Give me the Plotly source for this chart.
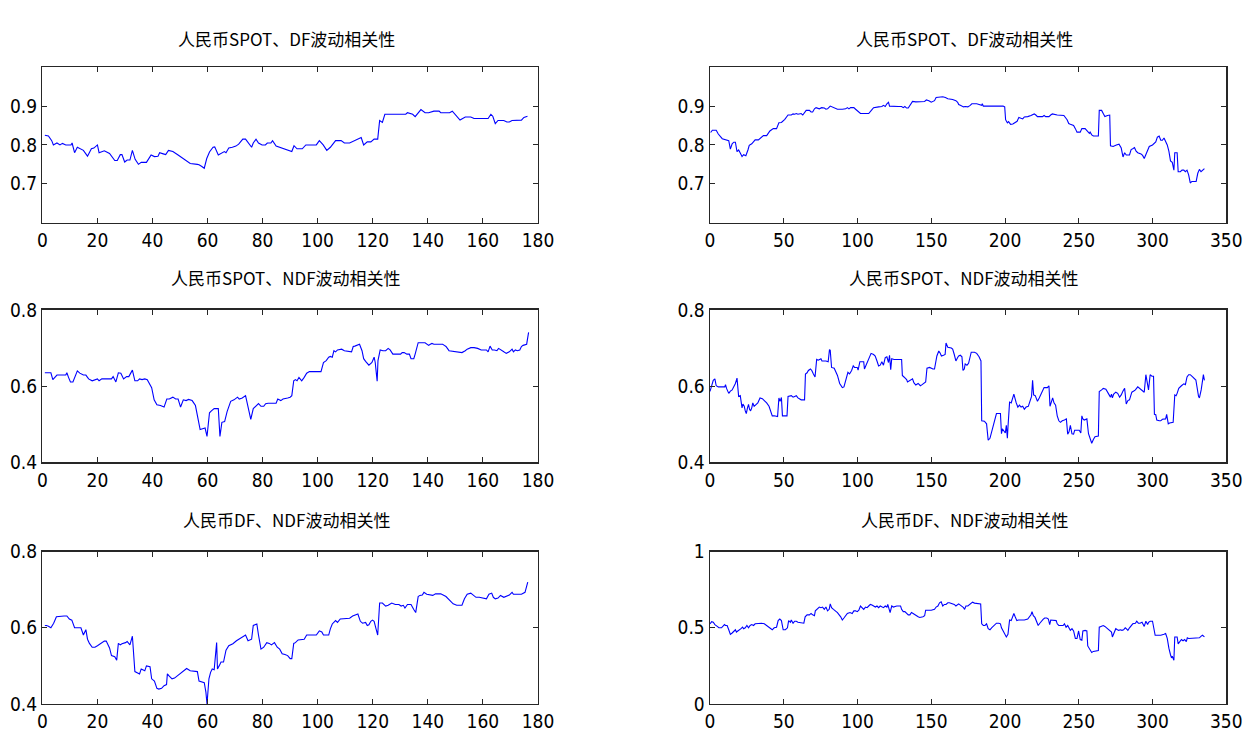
import plotly.graph_objects as go

# ---------------- data ----------------
titles = ["人民币SPOT、DF波动相关性", "人民币SPOT、NDF波动相关性", "人民币DF、NDF波动相关性"]

# left column: sample A (0-180)
spot_df_a_x = [0.9, 2.2, 3.4, 4.0, 5.3, 6.4, 7.3, 8.5, 10.4, 10.8, 11.7, 12.7, 14.9, 16.4, 17.8, 18.7, 20.0, 20.6, 22.5, 24.4, 26.3, 27.2, 28.3, 28.9, 29.9, 30.8, 31.8, 32.7, 33.7, 34.9, 35.9, 37.8, 39.5, 40.7, 42.0, 42.6, 43.9, 44.8, 45.8, 47.4, 49.3, 50.5, 52.4, 53.7, 56.3, 56.9, 57.8, 58.8, 59.7, 60.7, 62.0, 62.6, 63.9, 65.2, 66.1, 66.7, 67.7, 69.0, 70.3, 71.3, 72.8, 73.8, 75.1, 76.0, 76.6, 77.6, 78.5, 79.8, 81.0, 81.7, 83.0, 83.6, 84.9, 86.2, 88.1, 90.0, 90.6, 91.4, 92.5, 94.4, 95.7, 99.5, 100.6, 102.0, 103.3, 104.6, 106.5, 108.5, 109.7, 111.6, 113.5, 114.8, 115.8, 116.7, 118.0, 119.3, 120.5, 121.8, 122.5, 123.5, 124.4, 125.6, 132.0, 132.6, 133.9, 134.5, 135.4, 136.5, 137.5, 139.0, 140.3, 142.2, 144.1, 144.7, 147.9, 148.9, 150.5, 151.7, 153.6, 155.6, 156.8, 161.9, 162.9, 163.6, 164.5, 165.5, 167.6, 168.7, 169.6, 170.6, 174.0, 174.9, 176.2]
spot_df_a_y = [0.825, 0.823, 0.811, 0.800, 0.805, 0.800, 0.804, 0.800, 0.800, 0.805, 0.780, 0.794, 0.786, 0.771, 0.790, 0.792, 0.800, 0.780, 0.785, 0.778, 0.760, 0.760, 0.775, 0.775, 0.756, 0.761, 0.761, 0.786, 0.763, 0.750, 0.755, 0.755, 0.774, 0.770, 0.771, 0.780, 0.777, 0.775, 0.786, 0.783, 0.774, 0.768, 0.760, 0.752, 0.750, 0.749, 0.745, 0.740, 0.765, 0.782, 0.794, 0.795, 0.774, 0.780, 0.783, 0.780, 0.792, 0.794, 0.797, 0.802, 0.815, 0.815, 0.802, 0.794, 0.805, 0.815, 0.805, 0.800, 0.800, 0.805, 0.805, 0.811, 0.797, 0.794, 0.790, 0.786, 0.783, 0.798, 0.790, 0.790, 0.800, 0.800, 0.811, 0.800, 0.786, 0.794, 0.811, 0.811, 0.805, 0.805, 0.811, 0.815, 0.819, 0.800, 0.808, 0.808, 0.815, 0.815, 0.863, 0.858, 0.879, 0.879, 0.879, 0.883, 0.879, 0.879, 0.873, 0.882, 0.891, 0.883, 0.883, 0.887, 0.887, 0.883, 0.883, 0.887, 0.874, 0.864, 0.872, 0.872, 0.868, 0.868, 0.879, 0.874, 0.855, 0.863, 0.863, 0.859, 0.859, 0.863, 0.864, 0.871, 0.874]

spot_ndf_a_x = [0.9, 2.2, 3.1, 3.8, 4.7, 5.3, 8.5, 8.9, 9.5, 10.2, 11.1, 11.7, 12.7, 13.6, 14.9, 15.8, 16.8, 18.1, 19.1, 20.0, 20.6, 21.6, 25.1, 25.7, 26.7, 27.6, 28.5, 29.5, 30.6, 31.4, 32.7, 33.6, 34.6, 35.3, 36.2, 37.2, 38.1, 38.7, 39.7, 40.6, 41.6, 42.9, 44.2, 45.2, 46.1, 47.4, 48.4, 49.3, 50.2, 51.2, 52.2, 53.1, 54.4, 55.6, 56.3, 57.3, 58.2, 59.1, 59.8, 60.7, 61.4, 62.4, 63.9, 64.5, 65.2, 66.2, 67.1, 68.4, 69.6, 70.9, 71.5, 72.6, 73.8, 74.7, 75.7, 76.6, 77.6, 78.5, 79.4, 80.4, 81.1, 82.0, 84.9, 85.5, 86.6, 87.4, 89.1, 90.0, 90.6, 91.3, 91.9, 92.5, 93.2, 94.2, 95.1, 96.0, 97.0, 101.2, 102.1, 103.1, 104.0, 104.6, 105.3, 105.9, 106.5, 107.2, 108.7, 109.7, 112.3, 112.9, 113.5, 114.6, 115.2, 116.1, 116.7, 117.4, 118.6, 119.7, 120.5, 120.9, 121.6, 121.9, 122.7, 123.7, 124.7, 125.6, 126.3, 127.3, 130.1, 130.7, 131.4, 132.4, 133.3, 133.9, 134.9, 135.4, 136.5, 139.0, 139.6, 140.3, 140.9, 141.5, 142.2, 145.4, 146.0, 146.6, 147.7, 151.1, 152.4, 153.6, 154.3, 155.6, 156.8, 158.1, 159.4, 161.3, 161.9, 162.6, 163.4, 164.2, 165.1, 165.7, 166.8, 167.6, 168.5, 169.6, 170.6, 171.1, 171.8, 172.5, 173.4, 174.0, 174.6, 175.9, 176.6]
spot_ndf_a_y = [0.635, 0.635, 0.635, 0.617, 0.625, 0.629, 0.629, 0.635, 0.623, 0.611, 0.611, 0.623, 0.640, 0.634, 0.629, 0.629, 0.619, 0.614, 0.617, 0.619, 0.614, 0.619, 0.619, 0.625, 0.611, 0.635, 0.634, 0.619, 0.625, 0.625, 0.642, 0.614, 0.614, 0.619, 0.617, 0.619, 0.617, 0.608, 0.596, 0.564, 0.551, 0.549, 0.545, 0.566, 0.566, 0.571, 0.566, 0.566, 0.545, 0.564, 0.562, 0.565, 0.562, 0.549, 0.524, 0.486, 0.488, 0.490, 0.468, 0.530, 0.535, 0.541, 0.541, 0.468, 0.505, 0.507, 0.533, 0.560, 0.564, 0.571, 0.566, 0.569, 0.575, 0.541, 0.513, 0.541, 0.547, 0.554, 0.547, 0.547, 0.554, 0.555, 0.555, 0.566, 0.562, 0.566, 0.569, 0.571, 0.575, 0.614, 0.617, 0.614, 0.623, 0.614, 0.623, 0.634, 0.638, 0.638, 0.662, 0.667, 0.676, 0.678, 0.676, 0.693, 0.690, 0.695, 0.697, 0.693, 0.690, 0.704, 0.705, 0.707, 0.710, 0.693, 0.672, 0.665, 0.655, 0.662, 0.676, 0.662, 0.613, 0.667, 0.695, 0.693, 0.693, 0.699, 0.695, 0.684, 0.684, 0.688, 0.688, 0.684, 0.684, 0.672, 0.672, 0.684, 0.714, 0.714, 0.710, 0.707, 0.710, 0.712, 0.710, 0.710, 0.707, 0.704, 0.693, 0.690, 0.688, 0.693, 0.697, 0.701, 0.701, 0.699, 0.695, 0.695, 0.690, 0.705, 0.695, 0.695, 0.693, 0.699, 0.695, 0.690, 0.686, 0.690, 0.697, 0.690, 0.695, 0.693, 0.695, 0.704, 0.707, 0.710, 0.741]

df_ndf_a_x = [0.9, 1.5, 2.2, 3.1, 4.1, 5.1, 7.9, 8.9, 9.8, 10.7, 11.7, 14.0, 14.9, 15.8, 16.4, 17.1, 18.1, 19.1, 20.0, 21.3, 22.5, 23.2, 24.4, 25.1, 25.7, 26.3, 27.0, 27.6, 28.3, 28.9, 30.2, 30.8, 31.8, 32.7, 33.6, 34.6, 35.3, 35.9, 36.5, 37.2, 37.8, 39.1, 39.7, 40.7, 41.6, 42.3, 43.3, 44.2, 45.1, 45.4, 46.1, 47.1, 48.0, 49.3, 51.2, 52.4, 53.7, 56.3, 56.9, 58.2, 58.8, 59.4, 59.8, 60.5, 61.1, 61.7, 62.4, 63.3, 63.6, 64.2, 64.9, 65.8, 66.7, 67.7, 69.2, 70.5, 71.8, 72.8, 73.8, 74.7, 76.0, 76.6, 77.9, 78.5, 79.4, 80.4, 81.5, 82.4, 83.2, 84.3, 85.3, 86.2, 87.1, 88.1, 89.1, 90.0, 90.6, 91.3, 91.9, 92.9, 94.2, 95.1, 96.0, 99.5, 100.6, 101.5, 102.1, 104.0, 104.6, 105.3, 106.5, 107.2, 108.2, 110.4, 111.6, 112.7, 114.6, 115.5, 116.3, 117.4, 118.0, 118.6, 119.3, 119.9, 120.5, 121.2, 121.8, 122.5, 123.5, 124.7, 125.6, 126.9, 128.2, 129.5, 130.3, 131.1, 131.7, 132.6, 133.9, 134.9, 135.6, 136.5, 137.1, 138.0, 138.6, 139.6, 140.9, 141.8, 142.8, 144.7, 146.6, 147.9, 149.2, 150.5, 152.4, 153.3, 154.3, 155.6, 156.6, 157.5, 158.7, 160.0, 161.3, 162.2, 163.2, 163.8, 164.5, 165.5, 166.4, 167.6, 168.5, 169.6, 170.6, 171.1, 174.0, 175.3, 176.3]
df_ndf_a_y = [0.606, 0.606, 0.604, 0.600, 0.612, 0.629, 0.631, 0.631, 0.623, 0.620, 0.600, 0.600, 0.581, 0.595, 0.570, 0.559, 0.549, 0.549, 0.553, 0.559, 0.565, 0.565, 0.547, 0.527, 0.526, 0.524, 0.515, 0.559, 0.555, 0.558, 0.561, 0.564, 0.555, 0.578, 0.485, 0.482, 0.479, 0.492, 0.490, 0.487, 0.500, 0.498, 0.466, 0.460, 0.441, 0.439, 0.441, 0.448, 0.451, 0.479, 0.473, 0.466, 0.468, 0.475, 0.485, 0.493, 0.487, 0.485, 0.460, 0.458, 0.456, 0.431, 0.400, 0.466, 0.483, 0.492, 0.490, 0.561, 0.492, 0.500, 0.510, 0.510, 0.541, 0.553, 0.558, 0.566, 0.572, 0.578, 0.581, 0.566, 0.570, 0.606, 0.610, 0.581, 0.544, 0.549, 0.561, 0.559, 0.555, 0.561, 0.549, 0.544, 0.532, 0.530, 0.527, 0.519, 0.519, 0.559, 0.561, 0.568, 0.570, 0.570, 0.581, 0.581, 0.592, 0.589, 0.581, 0.581, 0.597, 0.610, 0.619, 0.614, 0.623, 0.625, 0.625, 0.631, 0.636, 0.617, 0.612, 0.614, 0.606, 0.608, 0.617, 0.620, 0.617, 0.597, 0.581, 0.665, 0.665, 0.657, 0.659, 0.665, 0.661, 0.661, 0.657, 0.659, 0.652, 0.661, 0.661, 0.648, 0.640, 0.682, 0.685, 0.686, 0.693, 0.688, 0.686, 0.685, 0.689, 0.689, 0.682, 0.671, 0.663, 0.659, 0.659, 0.676, 0.688, 0.691, 0.685, 0.680, 0.680, 0.678, 0.676, 0.688, 0.691, 0.680, 0.676, 0.678, 0.685, 0.680, 0.683, 0.686, 0.693, 0.688, 0.688, 0.693, 0.720]

# right column: sample B (0-350)
spot_df_b_x = [0.4, 1.6, 4.2, 5.6, 8.3, 11.6, 12.7, 13.8, 15.0, 16.1, 17.2, 18.3, 19.4, 20.5, 21.7, 22.8, 24.3, 25.7, 26.6, 28.3, 30.6, 32.8, 35.0, 36.2, 38.4, 40.6, 42.9, 45.1, 46.7, 48.4, 50.7, 52.9, 55.1, 56.3, 57.4, 58.5, 59.6, 61.8, 62.9, 64.1, 65.2, 67.4, 68.5, 69.6, 70.8, 71.9, 74.1, 75.7, 77.5, 78.6, 79.7, 81.5, 83.0, 84.2, 86.4, 89.7, 92.0, 93.1, 94.2, 95.3, 97.5, 98.7, 100.9, 102.0, 104.2, 107.6, 109.8, 110.9, 114.3, 116.5, 117.6, 118.8, 119.9, 121.0, 121.7, 124.3, 127.7, 129.9, 131.0, 132.1, 133.3, 134.4, 135.5, 137.3, 139.5, 142.2, 144.4, 145.5, 146.7, 148.4, 150.0, 152.2, 153.3, 155.6, 157.8, 159.6, 161.2, 164.5, 166.7, 167.9, 168.6, 169.7, 171.9, 173.0, 174.8, 176.4, 177.5, 180.8, 182.4, 184.2, 184.6, 185.3, 198.7, 199.8, 200.4, 201.6, 202.4, 203.8, 205.3, 206.9, 208.2, 209.4, 210.9, 212.0, 213.1, 215.4, 217.6, 219.8, 220.9, 222.0, 225.4, 226.5, 227.6, 229.8, 231.0, 232.1, 235.4, 239.9, 242.1, 243.2, 244.3, 246.5, 247.7, 248.8, 251.0, 252.1, 254.3, 255.5, 257.2, 257.7, 258.8, 259.9, 263.3, 263.9, 265.5, 266.6, 267.7, 269.5, 271.0, 271.5, 273.3, 275.5, 277.3, 278.8, 280.0, 281.1, 282.2, 284.4, 285.5, 286.6, 287.8, 288.9, 290.0, 292.2, 293.3, 294.4, 295.5, 297.8, 300.0, 302.2, 303.3, 304.5, 305.6, 306.7, 307.8, 308.9, 310.0, 311.1, 312.2, 313.4, 314.5, 315.1, 316.7, 317.4, 318.9, 320.0, 321.2, 322.3, 323.4, 324.5, 325.6, 326.7, 329.6, 330.7, 331.8, 332.9, 334.5, 335.2]
spot_df_b_y = [0.832, 0.838, 0.838, 0.828, 0.816, 0.813, 0.811, 0.789, 0.803, 0.807, 0.807, 0.783, 0.787, 0.779, 0.770, 0.775, 0.772, 0.787, 0.799, 0.803, 0.813, 0.813, 0.819, 0.824, 0.824, 0.836, 0.842, 0.842, 0.857, 0.858, 0.866, 0.877, 0.877, 0.880, 0.879, 0.881, 0.879, 0.881, 0.877, 0.885, 0.889, 0.889, 0.885, 0.885, 0.893, 0.896, 0.893, 0.896, 0.895, 0.892, 0.893, 0.900, 0.898, 0.895, 0.892, 0.892, 0.893, 0.896, 0.893, 0.896, 0.896, 0.892, 0.885, 0.881, 0.881, 0.881, 0.891, 0.896, 0.898, 0.899, 0.902, 0.899, 0.906, 0.910, 0.900, 0.899, 0.899, 0.899, 0.896, 0.899, 0.895, 0.895, 0.901, 0.912, 0.911, 0.911, 0.911, 0.912, 0.916, 0.914, 0.910, 0.914, 0.922, 0.924, 0.924, 0.922, 0.919, 0.917, 0.914, 0.910, 0.904, 0.902, 0.898, 0.899, 0.898, 0.902, 0.906, 0.906, 0.904, 0.902, 0.906, 0.900, 0.900, 0.898, 0.865, 0.857, 0.860, 0.853, 0.854, 0.857, 0.861, 0.871, 0.869, 0.867, 0.872, 0.873, 0.876, 0.880, 0.877, 0.873, 0.873, 0.876, 0.873, 0.873, 0.877, 0.880, 0.877, 0.876, 0.865, 0.855, 0.853, 0.850, 0.842, 0.833, 0.833, 0.842, 0.842, 0.837, 0.830, 0.833, 0.826, 0.823, 0.823, 0.889, 0.889, 0.881, 0.873, 0.876, 0.877, 0.798, 0.796, 0.800, 0.802, 0.792, 0.769, 0.780, 0.774, 0.774, 0.788, 0.790, 0.793, 0.784, 0.780, 0.777, 0.773, 0.765, 0.776, 0.796, 0.800, 0.808, 0.820, 0.823, 0.812, 0.812, 0.818, 0.808, 0.800, 0.784, 0.759, 0.755, 0.735, 0.780, 0.780, 0.731, 0.731, 0.735, 0.735, 0.731, 0.735, 0.723, 0.702, 0.706, 0.706, 0.727, 0.737, 0.731, 0.735, 0.739]

spot_ndf_b_x = [0.0, 1.1, 2.2, 3.3, 4.2, 5.6, 10.0, 10.5, 11.2, 12.7, 13.8, 15.0, 16.1, 17.2, 18.3, 18.8, 19.4, 20.5, 21.2, 21.7, 22.3, 23.2, 23.9, 24.6, 25.4, 26.1, 26.8, 27.5, 28.3, 29.0, 29.9, 31.0, 32.4, 33.9, 35.5, 36.8, 38.4, 40.0, 41.3, 42.2, 43.5, 45.1, 45.8, 46.7, 47.5, 48.4, 49.1, 52.2, 52.9, 55.1, 56.3, 57.4, 58.5, 59.6, 61.8, 64.1, 64.7, 65.8, 66.7, 68.1, 69.0, 70.1, 71.2, 72.3, 73.4, 74.3, 75.2, 75.9, 78.6, 80.1, 81.0, 81.5, 82.4, 84.2, 86.4, 87.9, 89.7, 90.8, 92.2, 93.5, 94.6, 96.0, 97.1, 98.0, 99.8, 100.4, 101.6, 104.2, 104.7, 106.0, 107.6, 109.2, 110.9, 112.0, 113.2, 114.3, 115.4, 116.5, 117.6, 118.8, 119.9, 121.0, 121.7, 122.5, 123.2, 124.8, 129.9, 130.4, 131.5, 133.3, 133.9, 135.5, 137.3, 138.2, 139.5, 141.1, 142.6, 143.8, 145.1, 146.2, 147.1, 148.9, 151.1, 152.2, 153.8, 155.1, 156.0, 156.9, 158.3, 159.4, 160.0, 161.2, 163.6, 164.5, 165.6, 166.7, 167.9, 168.6, 169.7, 170.8, 171.5, 172.4, 173.0, 174.2, 175.3, 177.1, 179.3, 180.8, 182.4, 183.7, 184.2, 186.0, 187.5, 188.6, 189.8, 190.9, 193.1, 194.2, 196.9, 197.6, 198.2, 199.3, 200.2, 200.9, 201.6, 202.0, 203.1, 204.2, 205.3, 206.0, 207.6, 208.7, 209.8, 210.9, 212.0, 213.1, 214.3, 215.8, 216.9, 218.0, 218.7, 219.4, 220.5, 222.0, 223.2, 224.3, 225.4, 226.5, 228.7, 229.8, 230.5, 231.6, 232.3, 233.2, 234.3, 235.4, 236.5, 237.6, 238.8, 240.3, 241.6, 242.5, 243.4, 244.3, 245.4, 246.5, 247.2, 250.3, 251.4, 252.1, 252.8, 253.7, 255.5, 256.6, 257.7, 258.8, 259.9, 261.0, 263.3, 263.9, 265.5, 266.6, 268.4, 269.3, 270.6, 271.5, 272.2, 272.8, 273.7, 275.1, 276.4, 277.7, 278.8, 280.0, 281.1, 282.2, 283.3, 284.4, 284.9, 286.0, 287.3, 288.4, 290.0, 292.2, 293.3, 294.4, 295.5, 296.0, 296.7, 297.3, 298.4, 299.6, 300.7, 301.3, 302.2, 302.9, 304.5, 305.6, 306.7, 307.8, 308.9, 309.6, 310.7, 311.6, 314.0, 315.1, 316.0, 316.7, 317.8, 319.6, 321.2, 322.3, 323.4, 324.5, 325.6, 327.2, 328.5, 329.4, 331.2, 331.8, 333.0, 333.9, 334.5, 335.2]
spot_ndf_b_y = [0.586, 0.601, 0.615, 0.619, 0.601, 0.598, 0.598, 0.604, 0.594, 0.581, 0.587, 0.590, 0.598, 0.607, 0.621, 0.603, 0.573, 0.575, 0.560, 0.543, 0.553, 0.547, 0.535, 0.528, 0.543, 0.552, 0.539, 0.535, 0.543, 0.556, 0.547, 0.552, 0.556, 0.569, 0.567, 0.562, 0.556, 0.547, 0.535, 0.522, 0.522, 0.521, 0.520, 0.569, 0.560, 0.570, 0.522, 0.522, 0.573, 0.575, 0.571, 0.573, 0.575, 0.569, 0.564, 0.564, 0.632, 0.635, 0.641, 0.645, 0.641, 0.632, 0.624, 0.670, 0.668, 0.670, 0.672, 0.666, 0.666, 0.664, 0.696, 0.694, 0.649, 0.647, 0.628, 0.607, 0.596, 0.598, 0.619, 0.636, 0.632, 0.641, 0.653, 0.649, 0.649, 0.642, 0.664, 0.664, 0.645, 0.658, 0.670, 0.686, 0.683, 0.679, 0.666, 0.653, 0.655, 0.664, 0.655, 0.675, 0.677, 0.662, 0.681, 0.643, 0.672, 0.670, 0.670, 0.628, 0.624, 0.617, 0.611, 0.615, 0.619, 0.609, 0.603, 0.607, 0.601, 0.604, 0.607, 0.611, 0.647, 0.649, 0.645, 0.645, 0.679, 0.692, 0.687, 0.679, 0.681, 0.683, 0.713, 0.702, 0.700, 0.697, 0.683, 0.666, 0.675, 0.679, 0.681, 0.677, 0.641, 0.645, 0.658, 0.655, 0.660, 0.689, 0.689, 0.686, 0.677, 0.666, 0.509, 0.508, 0.501, 0.458, 0.463, 0.480, 0.508, 0.528, 0.528, 0.475, 0.488, 0.482, 0.477, 0.497, 0.463, 0.492, 0.558, 0.556, 0.567, 0.579, 0.556, 0.545, 0.550, 0.545, 0.547, 0.539, 0.545, 0.547, 0.560, 0.573, 0.615, 0.577, 0.575, 0.560, 0.569, 0.579, 0.590, 0.596, 0.596, 0.601, 0.547, 0.564, 0.569, 0.556, 0.550, 0.522, 0.509, 0.505, 0.509, 0.511, 0.514, 0.474, 0.480, 0.497, 0.475, 0.474, 0.484, 0.484, 0.477, 0.522, 0.514, 0.511, 0.514, 0.475, 0.463, 0.450, 0.460, 0.467, 0.469, 0.586, 0.590, 0.594, 0.592, 0.587, 0.577, 0.571, 0.579, 0.569, 0.579, 0.584, 0.581, 0.571, 0.577, 0.587, 0.594, 0.553, 0.562, 0.564, 0.573, 0.584, 0.587, 0.590, 0.598, 0.592, 0.587, 0.584, 0.630, 0.615, 0.598, 0.590, 0.630, 0.626, 0.626, 0.526, 0.525, 0.511, 0.509, 0.509, 0.513, 0.514, 0.514, 0.526, 0.501, 0.503, 0.505, 0.577, 0.575, 0.581, 0.594, 0.601, 0.606, 0.604, 0.624, 0.630, 0.630, 0.624, 0.619, 0.616, 0.573, 0.569, 0.590, 0.624, 0.630, 0.615]

df_ndf_b_x = [0.0, 1.1, 2.2, 3.3, 4.9, 6.0, 7.8, 8.9, 9.8, 10.5, 11.6, 12.7, 13.8, 15.0, 16.1, 17.2, 17.9, 19.0, 19.9, 21.0, 22.1, 22.8, 23.9, 25.0, 26.1, 27.2, 28.3, 29.5, 30.6, 32.8, 35.0, 36.8, 38.4, 40.0, 41.3, 42.2, 43.5, 45.1, 46.2, 47.3, 48.4, 48.9, 49.6, 51.1, 52.5, 53.3, 54.5, 55.1, 56.3, 57.4, 58.5, 59.6, 63.6, 64.5, 65.8, 67.4, 68.5, 69.6, 70.8, 71.4, 72.5, 74.1, 75.2, 76.3, 77.5, 78.6, 79.7, 80.8, 81.5, 82.4, 83.7, 85.3, 86.4, 88.6, 89.7, 90.8, 92.0, 93.1, 94.9, 96.4, 97.5, 98.7, 99.8, 100.9, 102.0, 103.1, 104.2, 105.4, 106.5, 107.6, 108.7, 109.8, 110.9, 112.1, 113.2, 114.3, 115.4, 116.5, 117.6, 118.8, 119.9, 120.5, 121.4, 122.1, 123.2, 124.3, 126.6, 129.2, 129.9, 131.0, 132.1, 133.3, 134.4, 135.5, 136.6, 137.7, 138.8, 140.0, 141.1, 142.2, 143.3, 144.4, 145.5, 146.2, 150.0, 152.2, 153.3, 154.5, 155.6, 156.7, 157.8, 158.9, 160.0, 161.2, 162.3, 164.5, 165.6, 166.7, 167.9, 168.6, 169.7, 170.8, 171.9, 172.6, 173.5, 174.8, 175.9, 177.1, 178.0, 179.3, 180.8, 182.4, 183.5, 184.2, 185.3, 186.4, 187.5, 188.6, 189.8, 190.9, 192.0, 193.1, 194.2, 195.8, 196.9, 197.6, 198.7, 199.8, 200.9, 202.0, 203.1, 204.2, 205.3, 206.0, 206.9, 208.0, 209.1, 213.1, 215.4, 216.5, 217.6, 218.3, 219.2, 220.3, 221.4, 222.5, 223.6, 224.7, 225.8, 226.9, 228.3, 229.4, 230.3, 231.0, 233.6, 234.7, 235.4, 236.5, 239.4, 240.3, 241.4, 242.5, 243.7, 244.3, 245.4, 246.5, 247.7, 248.8, 249.9, 251.0, 252.1, 252.8, 254.3, 255.5, 256.1, 257.7, 258.8, 259.9, 261.7, 263.3, 263.9, 265.5, 266.6, 267.7, 268.8, 269.9, 271.0, 272.2, 272.8, 273.7, 275.1, 276.2, 277.1, 278.2, 279.3, 280.4, 281.5, 282.2, 283.3, 284.4, 285.5, 286.6, 288.4, 289.3, 290.4, 291.5, 292.9, 294.4, 295.5, 296.7, 297.3, 298.4, 300.0, 300.7, 301.8, 302.9, 305.6, 307.8, 308.9, 310.0, 310.5, 311.1, 312.2, 312.9, 313.4, 314.5, 315.1, 316.7, 317.4, 318.5, 319.6, 320.7, 321.8, 322.9, 323.6, 324.5, 330.1, 331.8, 333.0, 333.9, 335.2]
df_ndf_b_y = [0.526, 0.540, 0.536, 0.521, 0.509, 0.500, 0.500, 0.509, 0.521, 0.515, 0.515, 0.487, 0.457, 0.466, 0.479, 0.487, 0.472, 0.479, 0.483, 0.494, 0.504, 0.494, 0.500, 0.515, 0.500, 0.515, 0.521, 0.515, 0.526, 0.530, 0.530, 0.526, 0.515, 0.504, 0.494, 0.487, 0.500, 0.504, 0.547, 0.557, 0.547, 0.509, 0.487, 0.487, 0.500, 0.547, 0.536, 0.551, 0.530, 0.543, 0.543, 0.536, 0.530, 0.572, 0.585, 0.585, 0.594, 0.585, 0.579, 0.611, 0.621, 0.636, 0.632, 0.636, 0.621, 0.636, 0.611, 0.621, 0.657, 0.632, 0.621, 0.611, 0.600, 0.572, 0.551, 0.564, 0.579, 0.594, 0.600, 0.594, 0.611, 0.611, 0.606, 0.615, 0.643, 0.632, 0.621, 0.636, 0.632, 0.643, 0.653, 0.649, 0.643, 0.636, 0.643, 0.632, 0.643, 0.636, 0.632, 0.643, 0.636, 0.653, 0.611, 0.600, 0.643, 0.636, 0.643, 0.643, 0.621, 0.606, 0.606, 0.594, 0.585, 0.585, 0.600, 0.594, 0.585, 0.579, 0.572, 0.568, 0.568, 0.572, 0.579, 0.615, 0.615, 0.621, 0.636, 0.643, 0.664, 0.670, 0.643, 0.653, 0.653, 0.664, 0.664, 0.657, 0.653, 0.643, 0.649, 0.657, 0.649, 0.643, 0.632, 0.621, 0.643, 0.643, 0.653, 0.664, 0.668, 0.662, 0.660, 0.660, 0.657, 0.526, 0.515, 0.515, 0.526, 0.494, 0.487, 0.500, 0.509, 0.515, 0.530, 0.530, 0.526, 0.500, 0.483, 0.462, 0.440, 0.457, 0.551, 0.547, 0.572, 0.594, 0.572, 0.547, 0.551, 0.551, 0.557, 0.572, 0.585, 0.606, 0.579, 0.568, 0.536, 0.515, 0.530, 0.547, 0.555, 0.564, 0.564, 0.557, 0.521, 0.551, 0.551, 0.547, 0.526, 0.515, 0.515, 0.526, 0.504, 0.515, 0.494, 0.483, 0.494, 0.479, 0.430, 0.430, 0.479, 0.423, 0.419, 0.479, 0.483, 0.479, 0.381, 0.360, 0.338, 0.345, 0.349, 0.351, 0.504, 0.509, 0.515, 0.509, 0.500, 0.494, 0.483, 0.472, 0.440, 0.466, 0.494, 0.487, 0.483, 0.487, 0.483, 0.487, 0.500, 0.494, 0.483, 0.500, 0.515, 0.526, 0.530, 0.543, 0.530, 0.530, 0.536, 0.509, 0.543, 0.521, 0.536, 0.543, 0.543, 0.515, 0.451, 0.451, 0.451, 0.457, 0.462, 0.430, 0.387, 0.366, 0.323, 0.302, 0.313, 0.287, 0.440, 0.440, 0.394, 0.409, 0.423, 0.415, 0.423, 0.409, 0.434, 0.430, 0.430, 0.434, 0.445, 0.451, 0.440]

# axis settings
x_range_a = [0, 180]
x_ticks_a = [0, 20, 40, 60, 80, 100, 120, 140, 160, 180]
x_range_b = [0, 350]
x_ticks_b = [0, 50, 100, 150, 200, 250, 300, 350]
y_ranges = [[0.6, 1.0], [0.4, 0.8], [0.4, 0.8], [0.6, 1.0], [0.4, 0.8], [0.0, 1.0]]
y_tickvals = [[0.7, 0.8, 0.9], [0.4, 0.6, 0.8], [0.4, 0.6, 0.8],
              [0.7, 0.8, 0.9], [0.4, 0.6, 0.8], [0, 0.5, 1]]
y_ticktext = [["0.7", "0.8", "0.9"], ["0.4", "0.6", "0.8"], ["0.4", "0.6", "0.8"],
              ["0.7", "0.8", "0.9"], ["0.4", "0.6", "0.8"], ["0", "0.5", "1"]]

series = [(spot_df_a_x, spot_df_a_y), (spot_ndf_a_x, spot_ndf_a_y), (df_ndf_a_x, df_ndf_a_y),
          (spot_df_b_x, spot_df_b_y), (spot_ndf_b_x, spot_ndf_b_y), (df_ndf_b_x, df_ndf_b_y)]

# ---------------- layout ----------------
W, H = 1257, 747
col_px = [(38, 542), (717, 1242)]
row_px = [(58, 218), (308, 465), (557, 714)]
title_y_px = [28, 275, 524]

tick_font = dict(family="Liberation Sans Narrow, Arial Narrow, DejaVu Sans Condensed, sans-serif",
                 size=19, color="#000000")
title_font = dict(family="Noto Sans CJK SC, sans-serif", size=17, color="#000000")

fig = go.Figure()
layout = dict(width=W, height=H, margin=dict(l=0, r=0, t=0, b=0),
              paper_bgcolor="white", plot_bgcolor="white", showlegend=False)
annotations = []

for k, (xs, ys) in enumerate(series):
    col = k // 3
    row = k % 3
    idx = k + 1
    xa = "x" if idx == 1 else f"x{idx}"
    ya = "y" if idx == 1 else f"y{idx}"
    fig.add_trace(go.Scatter(x=xs, y=ys, mode="lines", xaxis=xa, yaxis=ya,
                             line=dict(color="#0000FF", width=1.1), hoverinfo="skip"))
    x0, x1 = col_px[col]
    y0, y1 = row_px[row]
    xdom = [x0 / W, x1 / W]
    ydom = [1 - y1 / H, 1 - y0 / H]
    common = dict(showgrid=False, zeroline=False, showline=True, linecolor="#262626",
                  linewidth=1.5, mirror="ticks", ticks="inside", ticklen=5,
                  tickcolor="#262626", tickwidth=1, tickfont=tick_font)
    layout["xaxis" if idx == 1 else f"xaxis{idx}"] = dict(
        domain=xdom, anchor=ya,
        range=x_range_a if col == 0 else x_range_b,
        tickmode="array", tickvals=x_ticks_a if col == 0 else x_ticks_b,
        ticktext=[str(v) for v in (x_ticks_a if col == 0 else x_ticks_b)],
        **common)
    layout["yaxis" if idx == 1 else f"yaxis{idx}"] = dict(
        domain=ydom, anchor=xa, range=y_ranges[k],
        tickmode="array", tickvals=y_tickvals[k], ticktext=y_ticktext[k],
        **common)
    annotations.append(dict(text=titles[row], xref="paper", yref="paper",
                            x=(x0 + x1) / 2 / W - 4 / W, y=1 - title_y_px[row] / H,
                            xanchor="center", yanchor="middle", showarrow=False,
                            font=title_font))

layout["annotations"] = annotations
fig.update_layout(**layout)
fig.write_html("out.html",
               config={"displayModeBar": False, "staticPlot": True},
               post_script="document.body.style.margin='0';document.body.style.overflow='hidden';")
